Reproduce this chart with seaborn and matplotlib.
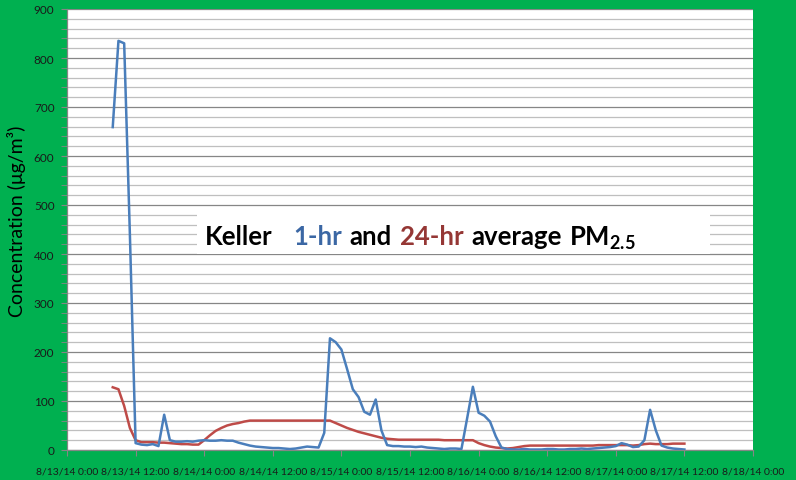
import pandas as pd
import seaborn as sns
import matplotlib.pyplot as plt
import matplotlib.dates as mdates
import numpy as np
from matplotlib.ticker import MultipleLocator, FuncFormatter
from matplotlib.offsetbox import TextArea, HPacker, AnnotationBbox, DrawingArea
from matplotlib.patches import Rectangle

GREEN = "#00B050"
BLUE = "#4A7EBB"
RED = "#BE4B48"

# hourly readings, hours counted from 8/13/14 0:00
hours = list(range(8, 109))

pm_1hr = [
    659, 835, 830, 440, 14, 11, 10, 12, 8, 72,          # h8-h17
    20, 17, 17, 18, 17, 19, 20, 19, 19, 20,             # h18-h27
    19, 19, 15, 12, 9, 7, 6, 5, 4, 4,                   # h28-h37
    3, 2, 3, 5, 7, 6, 5, 35, 228, 220,                  # h38-h47
    205, 165, 124, 108, 78, 72, 103, 40, 10, 8,         # h48-h57
    8, 7, 7, 6, 7, 5, 4, 3, 2, 3,                       # h58-h67
    3, 2, 65, 129, 76, 70, 58, 28, 5, 2,                # h68-h77
    1, 1, 2, 1, 1, 1, 2, 2, 1, 1,                       # h78-h87
    2, 2, 3, 2, 3, 4, 5, 6, 8, 14,                      # h88-h97
    11, 6, 7, 20, 82, 40, 9, 5, 3, 2,                   # h98-h107
    1,                                                  # h108
]

pm_24hr = [
    128, 124, 90, 45, 20, 16, 16, 16, 15, 15,           # h8-h17
    14, 13, 12, 12, 11, 11, 20, 30, 39, 45,             # h18-h27
    50, 53, 55, 58, 60, 60, 60, 60, 60, 60,             # h28-h37
    60, 60, 60, 60, 60, 60, 60, 60, 60, 55,             # h38-h47
    50, 45, 41, 37, 34, 31, 28, 25, 23, 22,             # h48-h57
    21, 21, 21, 21, 21, 21, 21, 21, 20, 20,             # h58-h67
    20, 20, 20, 20, 14, 10, 7, 5, 4, 3,                 # h68-h77
    4, 6, 8, 9, 9, 9, 9, 9, 9, 9,                       # h78-h87
    9, 9, 9, 9, 9, 10, 10, 10, 10, 10,                  # h88-h97
    10, 9, 10, 12, 13, 12, 12, 12, 13, 13,              # h98-h107
    13,                                                 # h108
]

start = pd.Timestamp("2014-08-13 00:00")
times = start + pd.to_timedelta(hours, unit="h")

df = pd.concat([
    pd.DataFrame({"time": times, "pm": pm_24hr, "series": "24-hr"}),
    pd.DataFrame({"time": times, "pm": pm_1hr, "series": "1-hr"}),
])

plt.rcParams["font.family"] = ["Lato", "DejaVu Sans"]
plt.rcParams["mathtext.fontset"] = "custom"
plt.rcParams["mathtext.rm"] = "Lato:bold"
plt.rcParams["mathtext.bf"] = "Lato:bold"
plt.rcParams["mathtext.it"] = "Lato:bold"

fig = plt.figure(figsize=(7.96, 4.81), dpi=100)
fig.patch.set_facecolor(GREEN)
ax = fig.add_axes([67 / 796, 30 / 481, 686 / 796, 441 / 481])
ax.set_facecolor("white")

sns.lineplot(
    data=df, x="time", y="pm", hue="series",
    palette={"24-hr": RED, "1-hr": BLUE},
    linewidth=1.8, legend=False, ax=ax, zorder=3,
)

ax.set_xlim(start, start + pd.Timedelta(days=5))
ax.set_ylim(0, 900)

ax.xaxis.set_major_locator(mdates.HourLocator(byhour=[0, 12]))


def fmt_date(x, pos):
    d = mdates.num2date(x)
    return f"{d.month}/{d.day}/{d.strftime('%y')} {d.hour}:{d.minute:02d}"


ax.xaxis.set_major_formatter(FuncFormatter(fmt_date))
ax.yaxis.set_major_locator(MultipleLocator(100))
ax.yaxis.set_minor_locator(MultipleLocator(20))

ax.set_axisbelow(True)
ax.grid(which="minor", axis="y", color="#BFBFBF", linewidth=0.9)
ax.grid(which="major", axis="y", color="#868686", linewidth=0.9)
ax.grid(which="both", axis="x", visible=False)

for side in ["top", "right"]:
    ax.spines[side].set_visible(False)
for side in ["left", "bottom"]:
    ax.spines[side].set_color("#868686")
    ax.spines[side].set_linewidth(0.9)

ax.tick_params(axis="both", which="both", color="#868686", labelcolor="#1a1a1a")
ax.tick_params(axis="y", which="major", length=4, labelsize=8.5, pad=5)
ax.tick_params(axis="y", which="minor", length=4)
ax.tick_params(axis="x", which="major", length=4, labelsize=7.5, pad=8)

ax.set_xlabel("")
ax.set_ylabel("Concentration (μg/m³)", fontsize=14, color="black")
ax.yaxis.set_label_coords(-0.06, 0.52)

# white box behind the in-plot title
ax.add_patch(Rectangle(((197 - 67) / 686, (481 - 255 - 30) / 441), 513 / 686, 45 / 441,
                       transform=ax.transAxes, facecolor="white", edgecolor="none",
                       zorder=2))

tp = dict(fontsize=18.5, fontweight="bold")
parts = [
    TextArea("Keller", textprops=dict(color="black", **tp)),
    DrawingArea(4, 1),
    TextArea("1-hr", textprops=dict(color="#3B67A4", **tp)),
    TextArea("and", textprops=dict(color="black", **tp)),
    TextArea("24-hr", textprops=dict(color="#953735", **tp)),
    TextArea("average", textprops=dict(color="black", **tp)),
    TextArea("PM$_{2.5}$", textprops=dict(color="black", **tp)),
]
title = HPacker(children=parts, align="baseline", sep=5.5, pad=0)
ab = AnnotationBbox(title, (205, 481 - 238), xycoords="figure pixels",
                    box_alignment=(0, 0.5), frameon=False, zorder=4)
ax.add_artist(ab)

plt.savefig("out.png", dpi=100, facecolor=GREEN)
plt.close()
